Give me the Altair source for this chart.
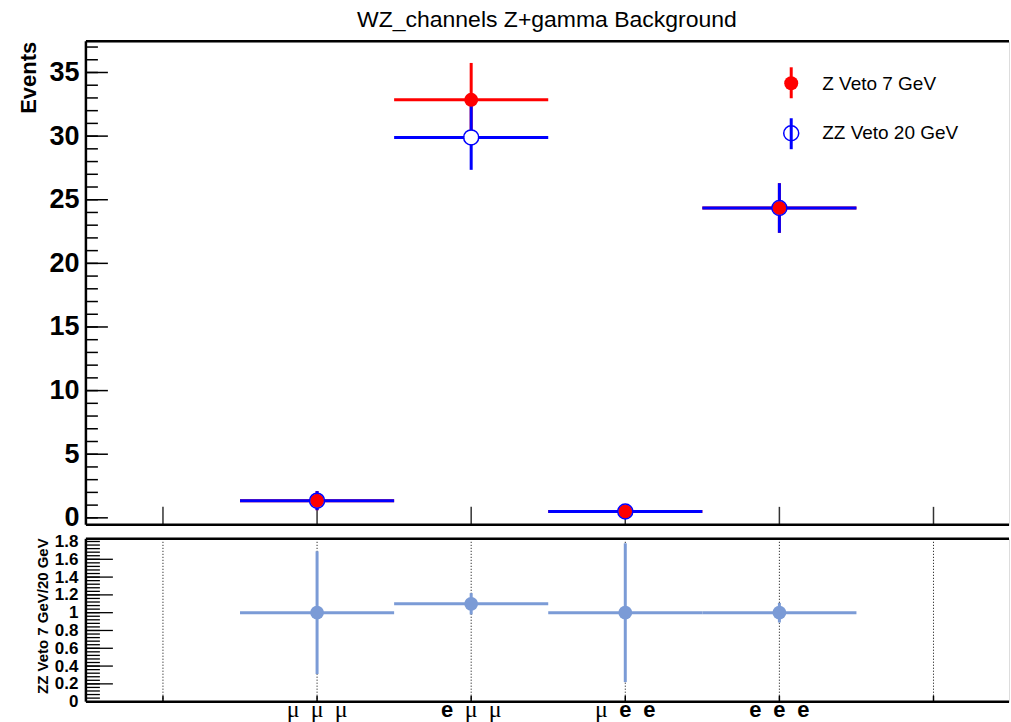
import altair as alt
import pandas as pd

# ---- data -------------------------------------------------------------
channels = ["μμμ", "eμμ", "μee", "eee"]
bins = [1, 2, 3, 4]
bin_half_width = 0.5

zveto7 = [1.35, 32.85, 0.5, 24.35]
zveto7_err = [0.75, 2.9, 0.3, 1.95]

zzveto20 = [1.35, 29.9, 0.5, 24.35]
zzveto20_err = [0.75, 2.55, 0.3, 1.95]

ratio = [1.0, 1.10, 1.0, 1.0]
ratio_err = [0.69, 0.12, 0.78, 0.11]

legend_labels = ["Z Veto 7 GeV", "ZZ Veto 20 GeV"]

top_major = [0, 5, 10, 15, 20, 25, 30, 35]
top_minor = list(range(0, 38))
bot_major = [0.2, 0.4, 0.6, 0.8, 1.0, 1.2, 1.4, 1.6]
bot_labels = [0, 0.2, 0.4, 0.6, 0.8, 1.0, 1.2, 1.4, 1.6, 1.8]
bot_minor = [round(i * 0.04, 2) for i in range(0, 46)]
x_ticks = [0, 1, 2, 3, 4, 5]

# ---- layout constants -------------------------------------------------
W = 924
H_TOP = 484
H_BOT = 163
RED = "#ff0000"
BLUE = "#0000ff"
RATIO_C = "#7b9bd6"
SANS = "Liberation Sans"

xscale = alt.Scale(domain=[-0.5, 5.49], nice=False, zero=False)
yscale_top = alt.Scale(domain=[-0.55, 37.45], nice=False, zero=False)
yscale_bot = alt.Scale(domain=[0, 1.83], nice=False, zero=False)


def series_df(vals, errs):
    return pd.DataFrame({
        "bin": bins,
        "val": vals,
        "lo": [v - e for v, e in zip(vals, errs)],
        "hi": [v + e for v, e in zip(vals, errs)],
        "xlo": [b - bin_half_width for b in bins],
        "xhi": [b + bin_half_width for b in bins],
    })


red_df = series_df(zveto7, zveto7_err)
blue_df = series_df(zzveto20, zzveto20_err)
ratio_df = series_df(ratio, ratio_err)

X = lambda f: alt.X(f, type="quantitative", scale=xscale, axis=None)

top_axis = alt.Axis(
    values=top_major, ticks=False, domain=False, grid=False,
    labelFont=SANS, labelFontWeight="bold", labelFontSize=27,
    labelColor="black", labelPadding=7,
    title="Events", titleFont=SANS, titleFontWeight="bold", titleFontSize=22,
    titleColor="black", titleAngle=270, titleAlign="right",
    titleBaseline="middle", titleX=-57, titleY=0,
)
bot_axis = alt.Axis(
    values=bot_labels, format=".1~f", ticks=False, domain=False, grid=False,
    labelFont=SANS, labelFontWeight="bold", labelFontSize=17,
    labelColor="black", labelPadding=8,
    title="ZZ Veto 7 GeV/20 GeV", titleFont=SANS, titleFontWeight="bold",
    titleFontSize=15, titleColor="black", titleAngle=270, titleAlign="right",
    titleBaseline="middle", titleX=-43, titleY=-1,
)
YT = lambda f: alt.Y(f, type="quantitative", scale=yscale_top, axis=top_axis)
YB = lambda f: alt.Y(f, type="quantitative", scale=yscale_bot, axis=bot_axis)

# ---- top pad ------------------------------------------------------------
tick_major_top = alt.Chart(pd.DataFrame({"t": top_major})).mark_rule(
    color="black", strokeWidth=1.5).encode(
    x=alt.value(0), x2=alt.value(22), y=YT("t"))
tick_minor_top = alt.Chart(pd.DataFrame({"t": top_minor})).mark_rule(
    color="black", strokeWidth=1.5).encode(
    x=alt.value(0), x2=alt.value(12), y=YT("t"))
xtick_top = alt.Chart(pd.DataFrame({"t": x_ticks})).mark_rule(
    color="#333333", strokeWidth=1.5).encode(
    x=X("t"), y=alt.value(H_TOP), y2=alt.value(H_TOP - 18))


def err_layers(df, color, width=3):
    h = alt.Chart(df).mark_rule(color=color, strokeWidth=width).encode(
        x=X("xlo"), x2="xhi", y=YT("val"))
    v = alt.Chart(df).mark_rule(color=color, strokeWidth=width).encode(
        x=X("bin"), y=YT("lo"), y2="hi")
    return [h, v]


blue_bg = alt.Chart(blue_df).mark_point(
    shape="circle", filled=True, color="white", size=200, opacity=1).encode(
    x=X("bin"), y=YT("val"))
red_pts = alt.Chart(red_df).mark_point(
    shape="circle", filled=True, color=RED, size=196, opacity=1).encode(
    x=X("bin"), y=YT("val"))
blue_pts = alt.Chart(blue_df).mark_point(
    shape="circle", filled=False, color=BLUE, size=225, strokeWidth=1.5,
    opacity=1).encode(x=X("bin"), y=YT("val"))

frame_top = [
    alt.Chart(pd.DataFrame({"a": [0]})).mark_rule(color="black", strokeWidth=2.5).encode(
        x=alt.value(0), x2=alt.value(0), y=alt.value(0), y2=alt.value(H_TOP)),
    alt.Chart(pd.DataFrame({"a": [0]})).mark_rule(color="black", strokeWidth=2.5).encode(
        x=alt.value(0), x2=alt.value(W), y=alt.value(0)),
    alt.Chart(pd.DataFrame({"a": [0]})).mark_rule(color="black", strokeWidth=2.5).encode(
        x=alt.value(0), x2=alt.value(W), y=alt.value(H_TOP)),
]

# legend
leg = pd.DataFrame({"label": legend_labels})
LEG_X = 706
leg_layers = [
    alt.Chart(leg).transform_filter(alt.datum.label == legend_labels[0]).mark_rule(
        color=RED, strokeWidth=3).encode(
        x=alt.value(LEG_X), y=alt.value(26), y2=alt.value(57)),
    alt.Chart(leg).transform_filter(alt.datum.label == legend_labels[0]).mark_point(
        shape="circle", filled=True, color=RED, size=196, opacity=1).encode(
        x=alt.value(LEG_X), y=alt.value(42)),
    alt.Chart(leg).transform_filter(alt.datum.label == legend_labels[1]).mark_rule(
        color=BLUE, strokeWidth=3).encode(
        x=alt.value(LEG_X), y=alt.value(77), y2=alt.value(108)),
    alt.Chart(leg).transform_filter(alt.datum.label == legend_labels[1]).mark_point(
        shape="circle", filled=False, color=BLUE, size=225, strokeWidth=1.5,
        opacity=1).encode(x=alt.value(LEG_X), y=alt.value(92)),
    alt.Chart(leg).transform_filter(alt.datum.label == legend_labels[0]).mark_text(
        font=SANS, fontSize=19, align="left", baseline="middle", color="black").encode(
        x=alt.value(737), y=alt.value(43), text="label:N"),
    alt.Chart(leg).transform_filter(alt.datum.label == legend_labels[1]).mark_text(
        font=SANS, fontSize=19, align="left", baseline="middle", color="black").encode(
        x=alt.value(737), y=alt.value(92), text="label:N"),
]

title = alt.Chart(pd.DataFrame({"t": ["WZ_channels Z+gamma Background"]})).mark_text(
    font=SANS, fontSize=23, align="center", baseline="middle", color="black").encode(
    x=alt.value(W / 2 - 0.5), y=alt.value(-21), text="t:N")

# keeps the page origin fixed so the plot frame starts at a known offset
anchor = alt.Chart(pd.DataFrame({"a": [0]})).mark_point(
    size=1, opacity=0, filled=True).encode(x=alt.value(-85), y=alt.value(-39.5))

top = alt.layer(
    tick_minor_top, tick_major_top, xtick_top,
    *err_layers(red_df, RED), *err_layers(blue_df, BLUE),
    blue_bg, red_pts, blue_pts,
    *frame_top, *leg_layers, title, anchor,
).properties(width=W, height=H_TOP)

# ---- ratio pad -------------------------------------------------------------
grid_bot = alt.Chart(pd.DataFrame({"t": x_ticks})).mark_rule(
    color="black", strokeWidth=1, strokeDash=[1, 2]).encode(
    x=X("t"), y=alt.value(0), y2=alt.value(H_BOT))
xtick_bot = alt.Chart(pd.DataFrame({"t": x_ticks})).mark_rule(
    color="black", strokeWidth=1.5).encode(
    x=X("t"), y=alt.value(H_BOT), y2=alt.value(H_BOT - 6))
tick_major_bot = alt.Chart(pd.DataFrame({"t": bot_major})).mark_rule(
    color="black", strokeWidth=1.3).encode(
    x=alt.value(0), x2=alt.value(27), y=YB("t"))
tick_minor_bot = alt.Chart(pd.DataFrame({"t": bot_minor})).mark_rule(
    color="black", strokeWidth=1.3).encode(
    x=alt.value(0), x2=alt.value(14), y=YB("t"))

ratio_h = alt.Chart(ratio_df).mark_rule(color=RATIO_C, strokeWidth=3).encode(
    x=X("xlo"), x2="xhi", y=YB("val"))
ratio_v = alt.Chart(ratio_df).mark_rule(color=RATIO_C, strokeWidth=3).encode(
    x=X("bin"), y=YB("lo"), y2="hi")
ratio_pts = alt.Chart(ratio_df).mark_point(
    shape="circle", filled=True, color=RATIO_C, size=190, opacity=1).encode(
    x=X("bin"), y=YB("val"))

frame_bot = [
    alt.Chart(pd.DataFrame({"a": [0]})).mark_rule(color="black", strokeWidth=2.5).encode(
        x=alt.value(0), x2=alt.value(0), y=alt.value(0), y2=alt.value(H_BOT)),
    alt.Chart(pd.DataFrame({"a": [0]})).mark_rule(color="black", strokeWidth=2.5).encode(
        x=alt.value(0), x2=alt.value(W), y=alt.value(0)),
    alt.Chart(pd.DataFrame({"a": [0]})).mark_rule(color="black", strokeWidth=2.5).encode(
        x=alt.value(0), x2=alt.value(W), y=alt.value(H_BOT)),
]

# channel labels: one text mark per character so muons and electrons
# can use different faces
rows = []
for b, name in zip(bins, channels):
    for slot, ch in enumerate(name):
        rows.append({"bin": b, "slot": slot, "ch": ch, "mu": ch == "μ"})
chars = pd.DataFrame(rows)
char_layers = []
for slot in range(3):
    dx = (slot - 1) * 24
    char_layers.append(
        alt.Chart(chars).transform_filter(
            (alt.datum.slot == slot) & (alt.datum.mu == True)).mark_text(
            font="Liberation Serif", fontSize=24, align="center",
            baseline="alphabetic", dx=dx, color="black").encode(
            x=X("bin"), y=alt.value(H_BOT + 15), text="ch:N"))
    char_layers.append(
        alt.Chart(chars).transform_filter(
            (alt.datum.slot == slot) & (alt.datum.mu == False)).mark_text(
            font=SANS, fontSize=22, fontWeight="bold", align="center",
            baseline="alphabetic", dx=dx, color="black").encode(
            x=X("bin"), y=alt.value(H_BOT + 15), text="ch:N"))

bottom = alt.layer(
    grid_bot, tick_minor_bot, tick_major_bot, xtick_bot,
    ratio_h, ratio_v, ratio_pts, *frame_bot, *char_layers,
).properties(width=W, height=H_BOT)

chart = alt.vconcat(top, bottom, spacing=14, bounds="flush").properties(
    padding={"left": 0, "top": 0, "right": 0, "bottom": 0}
).configure_view(stroke=None).configure(background="white")

chart.save("out.html", embed_options={"renderer": "svg", "actions": False})
